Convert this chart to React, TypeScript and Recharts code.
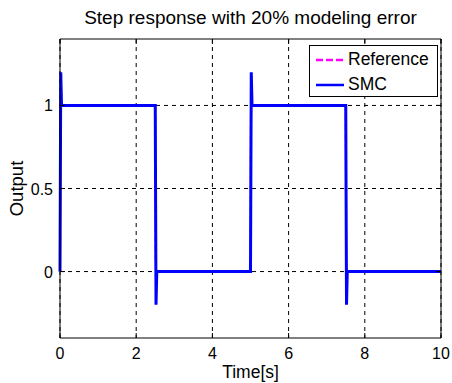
import { LineChart, Line, XAxis, YAxis, CartesianGrid } from 'recharts';

// sample times [s] and the two signals
const time = [0, 0.01, 0.02, 0.04, 2.5, 2.51, 2.52, 2.54, 5, 5.01, 5.02, 5.04, 7.5, 7.51, 7.52, 7.54, 10];
const reference = [0, 0.9, 1, 1, 1, 0.1, 0, 0, 0, 0.9, 1, 1, 1, 0.1, 0, 0, 0];
const smc = [0, 0.6, 1.2, 1, 1, 0.4, -0.2, 0, 0, 0.6, 1.2, 1, 1, 0.4, -0.2, 0, 0];

const xTicks = [0, 2, 4, 6, 8, 10];
const yTicks = [0, 0.5, 1];

const data = time.map((t, i) => ({ t, reference: reference[i], smc: smc[i] }));

const FONT = 'Liberation Sans, Arial, sans-serif';

const BottomTick = ({ x, y, payload }: any) => (
    <g>
        <line x1={x} y1={y} x2={x} y2={y - 5} stroke="#000" />
        <text x={x} y={y + 21} textAnchor="middle" fontSize={16} fontFamily={FONT} fill="#000">
            {payload.value}
        </text>
    </g>
);

const TopTick = ({ x, y }: any) => <line x1={x} y1={y} x2={x} y2={y + 5} stroke="#000" />;

const LeftTick = ({ x, y, payload }: any) => (
    <g>
        <line x1={x} y1={y} x2={x + 5} y2={y} stroke="#000" />
        <text x={x - 7} y={y + 6} textAnchor="end" fontSize={16} fontFamily={FONT} fill="#000">
            {payload.value}
        </text>
    </g>
);

const RightTick = ({ x, y }: any) => <line x1={x} y1={y} x2={x - 5} y2={y} stroke="#000" />;

const legendItems = [
    { name: 'Reference', color: '#ff00ff', dash: '7 3' },
    { name: 'SMC', color: '#0000ff', dash: undefined },
];

const LegendBox = () => (
    <div
        style={{
            position: 'absolute',
            left: 309,
            top: 45,
            width: 127,
            height: 50,
            border: '1px solid #000',
            background: '#fff',
            fontFamily: FONT,
            fontSize: 17.5,
            color: '#000',
        }}
    >
        {legendItems.map((item) => (
            <div key={item.name} style={{ display: 'flex', alignItems: 'center', height: 25, marginTop: item.name === 'Reference' ? 1 : 0 }}>
                <svg width={38} height={10} style={{ flex: 'none' }}>
                    <line x1={6} y1={5} x2={34} y2={5} stroke={item.color} strokeWidth={2.5} strokeDasharray={item.dash} />
                </svg>
                <span>{item.name}</span>
            </div>
        ))}
    </div>
);

export default function App() {
    return (
        <div style={{ position: 'fixed', left: 0, top: 0, width: 452, height: 383, background: '#fff' }}>
            <LineChart width={452} height={383} data={data} margin={{ top: 38, right: 10, left: 0, bottom: 0 }}>
                <CartesianGrid stroke="#000" strokeDasharray="4 4" horizontalValues={yTicks} verticalValues={xTicks} />
                <XAxis
                    dataKey="t"
                    type="number"
                    domain={[0, 10]}
                    ticks={xTicks}
                    interval={0}
                    height={45}
                    tickLine={false}
                    tickSize={0}
                    tickMargin={0}
                    tick={<BottomTick />}
                    axisLine={{ stroke: '#000' }}
                    label={({ viewBox }: any) => (
                        <text x={viewBox.x + viewBox.width / 2} y={378} textAnchor="middle" fontSize={17.5} fontFamily={FONT} fill="#000">
                            Time[s]
                        </text>
                    )}
                />
                <XAxis
                    xAxisId="top"
                    orientation="top"
                    dataKey="t"
                    type="number"
                    domain={[0, 10]}
                    ticks={xTicks}
                    interval={0}
                    height={1}
                    tickLine={false}
                    tickSize={0}
                    tickMargin={0}
                    tick={<TopTick />}
                    axisLine={{ stroke: '#000' }}
                    label={({ viewBox }: any) => (
                        <text x={viewBox.x + viewBox.width / 2} y={24} textAnchor="middle" fontSize={19} fontFamily={FONT} fill="#000">
                            Step response with 20% modeling error
                        </text>
                    )}
                />
                <YAxis
                    type="number"
                    domain={[-0.4, 1.4]}
                    ticks={yTicks}
                    interval={0}
                    width={60}
                    tickLine={false}
                    tickSize={0}
                    tickMargin={0}
                    tick={<LeftTick />}
                    axisLine={{ stroke: '#000' }}
                    allowDataOverflow
                    label={({ viewBox }: any) => {
                        const cy = viewBox.y + viewBox.height / 2;
                        return (
                            <text x={16} y={cy} transform={`rotate(-90 16 ${cy})`} textAnchor="middle" dominantBaseline="central" fontSize={18.5} fontFamily={FONT} fill="#000">
                                Output
                            </text>
                        );
                    }}
                />
                <YAxis
                    yAxisId="right"
                    orientation="right"
                    type="number"
                    domain={[-0.4, 1.4]}
                    ticks={yTicks}
                    interval={0}
                    width={1}
                    tickLine={false}
                    tickSize={0}
                    tickMargin={0}
                    tick={<RightTick />}
                    axisLine={{ stroke: '#000' }}
                    allowDataOverflow
                />
                <Line type="linear" dataKey="reference" name="Reference" stroke="#ff00ff" strokeWidth={2} strokeDasharray="7 3" dot={false} isAnimationActive={false} />
                <Line type="linear" dataKey="smc" name="SMC" stroke="#0000ff" strokeWidth={3} dot={false} isAnimationActive={false} />
            </LineChart>
            <LegendBox />
        </div>
    );
}
